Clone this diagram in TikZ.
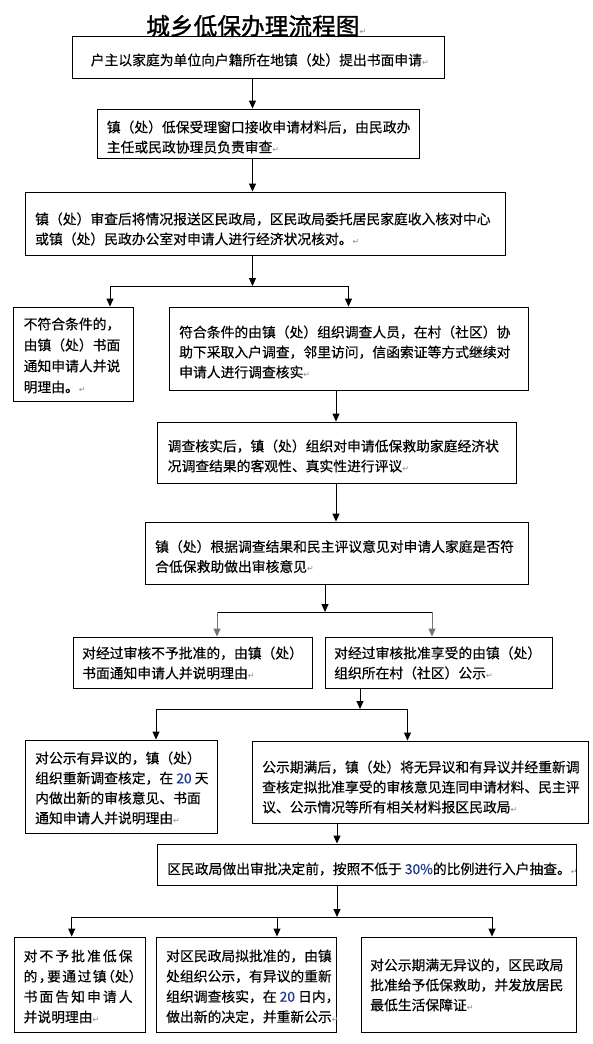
\documentclass[tikz,border=0pt]{standalone}
\usepackage{fontspec}
\setmainfont{Noto Sans CJK SC}[FakeBold=0.35]
\newfontfamily\titlef{Noto Sans CJK SC}[FakeBold=1.2]
\newfontfamily\symf{DejaVu Sans}
\usetikzlibrary{arrows.meta}
\definecolor{numc}{RGB}{31,56,140}
\newcommand\retm{{\symf\fontsize{8}{8}\selectfont\textcolor{black!45}{↵}}}
\newcommand\hwl[1]{\makebox[0.5em][l]{#1}}
\newcommand\hwr[1]{\makebox[0.5em][r]{#1}}
\newcommand\numc[1]{\textcolor{numc}{#1}}
\begin{document}
\begin{tikzpicture}[x=1pt,y=-1pt,
  box/.style={draw, line width=0.9pt, inner sep=0pt},
  txt/.style={anchor=west, inner sep=0pt, align=left, font=\fontsize{13.8}{20}\selectfont},
  arr/.style={line width=0.9pt, -{Triangle[width=7pt,length=8pt]}},
  garr/.style={arr, black!55},
  ln/.style={line width=0.9pt}]
\useasboundingbox (0,0) rectangle (593,1044);
\fill[white] (0,0) rectangle (593,1044);

% title
\node[anchor=west, inner sep=0pt, font=\titlef\fontsize{23.7}{24}\selectfont] (title) at (146,26) {城乡低保办理流程图\retm};

% boxes
\node[box, minimum width=371.5pt, minimum height=42pt] (b1) at (258.25,57) {};
\node[box, minimum width=322pt, minimum height=49pt] (b2) at (258,133.5) {};
\node[box, minimum width=480pt, minimum height=63pt] (b3) at (265,223.5) {};
\node[box, minimum width=120pt, minimum height=94pt] (b4) at (73.5,354) {};
\node[box, minimum width=359.5pt, minimum height=83pt] (b5) at (348.75,348.5) {};
\node[box, minimum width=359pt, minimum height=61pt] (b6) at (336.5,452.5) {};
\node[box, minimum width=383pt, minimum height=62pt] (b7) at (336.5,553) {};
\node[box, minimum width=238.4pt, minimum height=51pt] (b8) at (192.8,662.5) {};
\node[box, minimum width=227pt, minimum height=51pt] (b9) at (438.5,662.5) {};
\node[box, minimum width=192pt, minimum height=93pt] (b10) at (121,786.5) {};
\node[box, minimum width=336.1pt, minimum height=82pt] (b11) at (420.55,782) {};
\node[box, minimum width=419pt, minimum height=41pt] (b12) at (366.5,864.5) {};
\node[box, minimum width=131pt, minimum height=95pt] (b13) at (79.5,984.5) {};
\node[box, minimum width=180pt, minimum height=95pt] (b14) at (246.6,984.5) {};
\node[box, minimum width=215pt, minimum height=95pt] (b15) at (468.5,984.5) {};

% texts
\node[txt] (t1) at (90.6,60) {户主以家庭为单位向户籍所在地镇（处）提出书面申请\retm};
\node[txt] (t2) at (106.6,137) {镇（处）低保受理窗口接收申请材料后，由民政办\\主任或民政协理员负责审查\retm};
\node[txt] (t3) at (35,229) {镇（处）审查后将情况报送区民政局，区民政局委托居民家庭收入核对中心\\或镇（处）民政办公室对申请人进行经济状况核对。\retm};
\node[txt, font=\fontsize{13.8}{21}\selectfont] (t4) at (23.5,355.5) {不符合条件的，\\由镇（处）书面\\通知申请人并说\\明理由。\retm};
\node[txt] (t5) at (179,352) {符合条件的由镇（处）组织调查人员，在村（社区）协\\助下采取入户调查，邻里访问，信函索证等方式继续对\\申请人进行调查核实\retm};
\node[txt] (t6) at (167.5,456) {调查核实后，镇（处）组织对申请低保救助家庭经济状\\况调查结果的客观性、真实性进行评议\retm};
\node[txt] (t7) at (155,556.5) {镇（处）根据调查结果和民主评议意见对申请人家庭是否符\\合低保救助做出审核意见\retm};
\node[txt] (t8) at (82,663) {对经过审核不予批准的，由镇（处）\\书面通知申请人并说明理由\retm};
\node[txt] (t9) at (334,663) {对经过审核批准享受的由镇（处）\\组织所在村（社区）公示\retm};
\node[txt] (t10) at (35,788) {对公示有异议的，镇（处）\\组织重新调查核定，在 \numc{20} 天\\内做出新的审核意见、书面\\通知申请人并说明理由\retm};
\node[txt] (t11) at (262,787) {公示期满后，镇（处）将无异议和有异议并经重新调\\查核定拟批准享受的审核意见连同申请材料、民主评\\议、公示情况等所有相关材料报区民政局\retm};
\node[txt] (t12) at (167,869) {区民政局做出审批决定前，按照不低于 \numc{30\%}的比例进行入户抽查。\retm};
\node[txt, font=\fontsize{13.8}{20.3}\selectfont] (t13) at (23.4,986.5) {\makebox[109pt][s]{对\hfil 不\hfil 予\hfil 批\hfil 准\hfil 低\hfil 保}\\\makebox[112pt][s]{的\hfil\hwl{，}\hfil 要\hfil 通\hfil 过\hfil 镇\hfil\hwr{（}处\hwl{）}}\\\makebox[109pt][s]{书\hfil 面\hfil 告\hfil 知\hfil 申\hfil 请\hfil 人}\\并说明理由\retm};
\node[txt, font=\fontsize{13.8}{20.3}\selectfont] (t14) at (166,986.5) {对区民政局拟批准的，由镇\\处组织公示，有异议的重新\\组织调查核实，在 \numc{20} 日内，\\做出新的决定，并重新公示\retm};
\node[txt] (t15) at (370,985) {对公示期满无异议的，区民政局\\批准给予低保救助，并发放居民\\最低生活保障证\retm};

% connectors
\coordinate (xa) at (252.5,0);
\draw[arr] (xa |- b1.south) -- (xa |- b2.north);
\draw[arr] (xa |- b2.south) -- (xa |- b3.north);
\coordinate (j1) at (252.5,286);
\coordinate (j1l) at (110,286);
\coordinate (j1r) at (348.5,286);
\draw[arr] (xa |- b3.south) -- (j1);
\draw[ln] (j1l) -- (j1r);
\draw[arr] (j1l) -- (j1l |- b4.north);
\draw[arr] (j1r) -- (j1r |- b5.north);

\coordinate (xb) at (336,0);
\draw[arr] (xb |- b5.south) -- (xb |- b6.north);
\draw[arr] (xb |- b6.south) -- (xb |- b7.north);

\coordinate (j2) at (325,612);
\coordinate (j2l) at (217,612);
\coordinate (j2r) at (432,612);
\draw[arr] (j2 |- b7.south) -- (j2);
\draw[ln] (j2l) -- (j2r);
\draw[garr] (j2l) -- (j2l |- b8.north);
\draw[garr] (j2r) -- (j2r |- b9.north);

\coordinate (j3) at (360,709);
\coordinate (j3l) at (156,709);
\coordinate (j3r) at (407.5,709);
\draw[arr] (j3 |- b9.south) -- (j3);
\draw[ln] (j3l) -- (j3r);
\draw[arr] (j3l) -- (j3l |- b10.north);
\draw[arr] (j3r) -- (j3r |- b11.north);

\coordinate (xc) at (337,0);
\draw[arr] (xc |- b11.south) -- (xc |- b12.north);
\coordinate (j4) at (337,917);
\coordinate (j4l) at (71.7,917);
\coordinate (j4m) at (277,917);
\coordinate (j4r) at (492,917);
\draw[arr] (xc |- b12.south) -- (j4);
\draw[ln] (j4l) -- (j4r);
\draw[arr] (j4l) -- (j4l |- b13.north);
\draw[arr] (j4m) -- (j4m |- b14.north);
\draw[arr] (j4r) -- (j4r |- b15.north);
\end{tikzpicture}
\end{document}
